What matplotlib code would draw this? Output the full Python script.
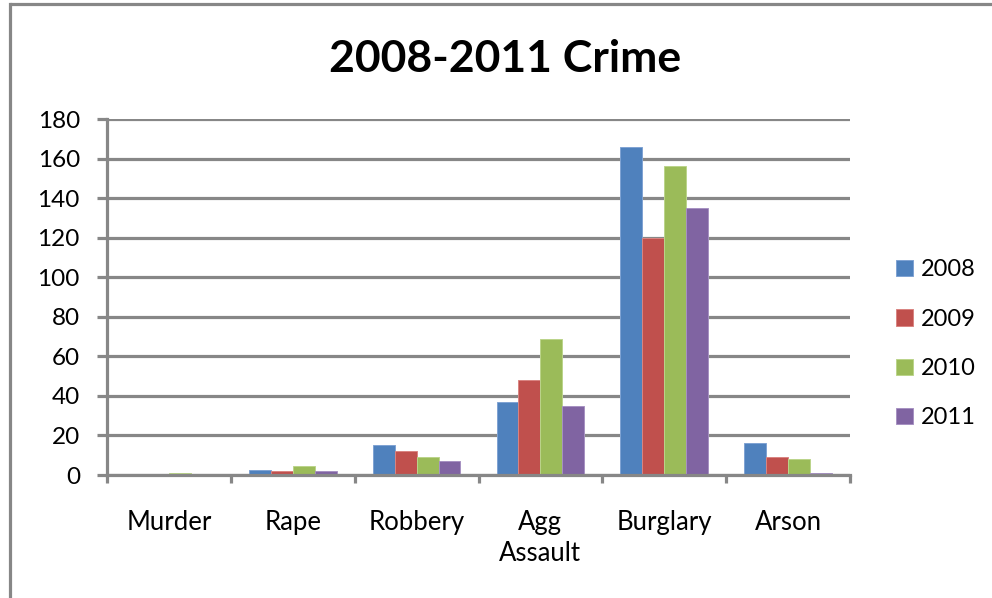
import matplotlib
matplotlib.use("Agg")
import matplotlib.pyplot as plt
import numpy as np
from matplotlib.lines import Line2D

categories = ["Murder", "Rape", "Robbery", "Agg\nAssault", "Burglary", "Arson"]
years = ["2008", "2009", "2010", "2011"]
v2008 = [0, 2.5, 15, 37, 166, 16]
v2009 = [0, 2, 12, 48, 120, 9]
v2010 = [1, 4.5, 9, 69, 156, 8]
v2011 = [0, 2, 7, 35, 135, 1]
series = [v2008, v2009, v2010, v2011]
colors = ["#4F81BD", "#C0504D", "#9BBB59", "#8064A2"]
edges = ["#7FA3D3", "#D98481", "#BBD48A", "#A792C2"]
yticks = [0, 20, 40, 60, 80, 100, 120, 140, 160, 180]

plt.rcParams['font.family'] = ['Lato', 'DejaVu Sans']
gray = "#878787"

fig = plt.figure(figsize=(9.92, 5.98), dpi=100)
ax = fig.add_axes([107/992, 1-475/598, (850-107)/992, (475-119)/598])

x = np.arange(len(categories))
w = 0.177
for i, (vals, c, ec, yr) in enumerate(zip(series, colors, edges, years)):
    ax.bar(x + (i - 1.5) * w, vals, width=w, color=c, edgecolor=ec, linewidth=0.7,
           label=yr, zorder=3)

ax.set_xlim(-0.5, len(categories) - 0.5)
ax.set_ylim(0, 180)
ax.set_yticks(yticks)
ax.set_yticklabels([str(t) for t in yticks], fontsize=17.5)
ax.yaxis.grid(True, color=gray, linewidth=2.3, zorder=0)
ax.set_axisbelow(True)

ax.set_xticks(np.arange(-0.5, len(categories), 1.0))
ax.set_xticklabels([])
ax.set_xticks(x, minor=True)
ax.set_xticklabels(categories, minor=True, fontsize=18.5, linespacing=1.32, va="top")
ax.tick_params(axis='x', which='minor', length=0, pad=25)
ax.tick_params(axis='x', which='major', length=6, width=2.3, color=gray)
ax.tick_params(axis='y', length=7.5, width=2.3, color=gray, pad=12)

for s in ["top", "right"]:
    ax.spines[s].set_visible(False)
for s in ["left", "bottom"]:
    ax.spines[s].set_color(gray)
    ax.spines[s].set_linewidth(2.3)
    ax.spines[s].set_zorder(4)

fig.text(505/992, 1-59/598, "2008-2011 Crime", ha="center", va="center",
         fontsize=32, fontweight="bold")

leg = fig.legend(loc="center left", bbox_to_anchor=(875/992, 1-344/598),
                 frameon=False, fontsize=17, handlelength=0.7, handleheight=0.7,
                 handletextpad=0.35, labelspacing=1.2)

# outer chart-area frame (top and left edges visible)
fig.lines.append(Line2D([9.5/992, 1.02], [1-4/598, 1-4/598], transform=fig.transFigure,
                        color=gray, linewidth=2.3, solid_capstyle="butt"))
fig.lines.append(Line2D([9.5/992, 9.5/992], [-0.02, 1-4/598], transform=fig.transFigure,
                        color=gray, linewidth=2.3, solid_capstyle="projecting"))

fig.savefig("out.png", dpi=100)
